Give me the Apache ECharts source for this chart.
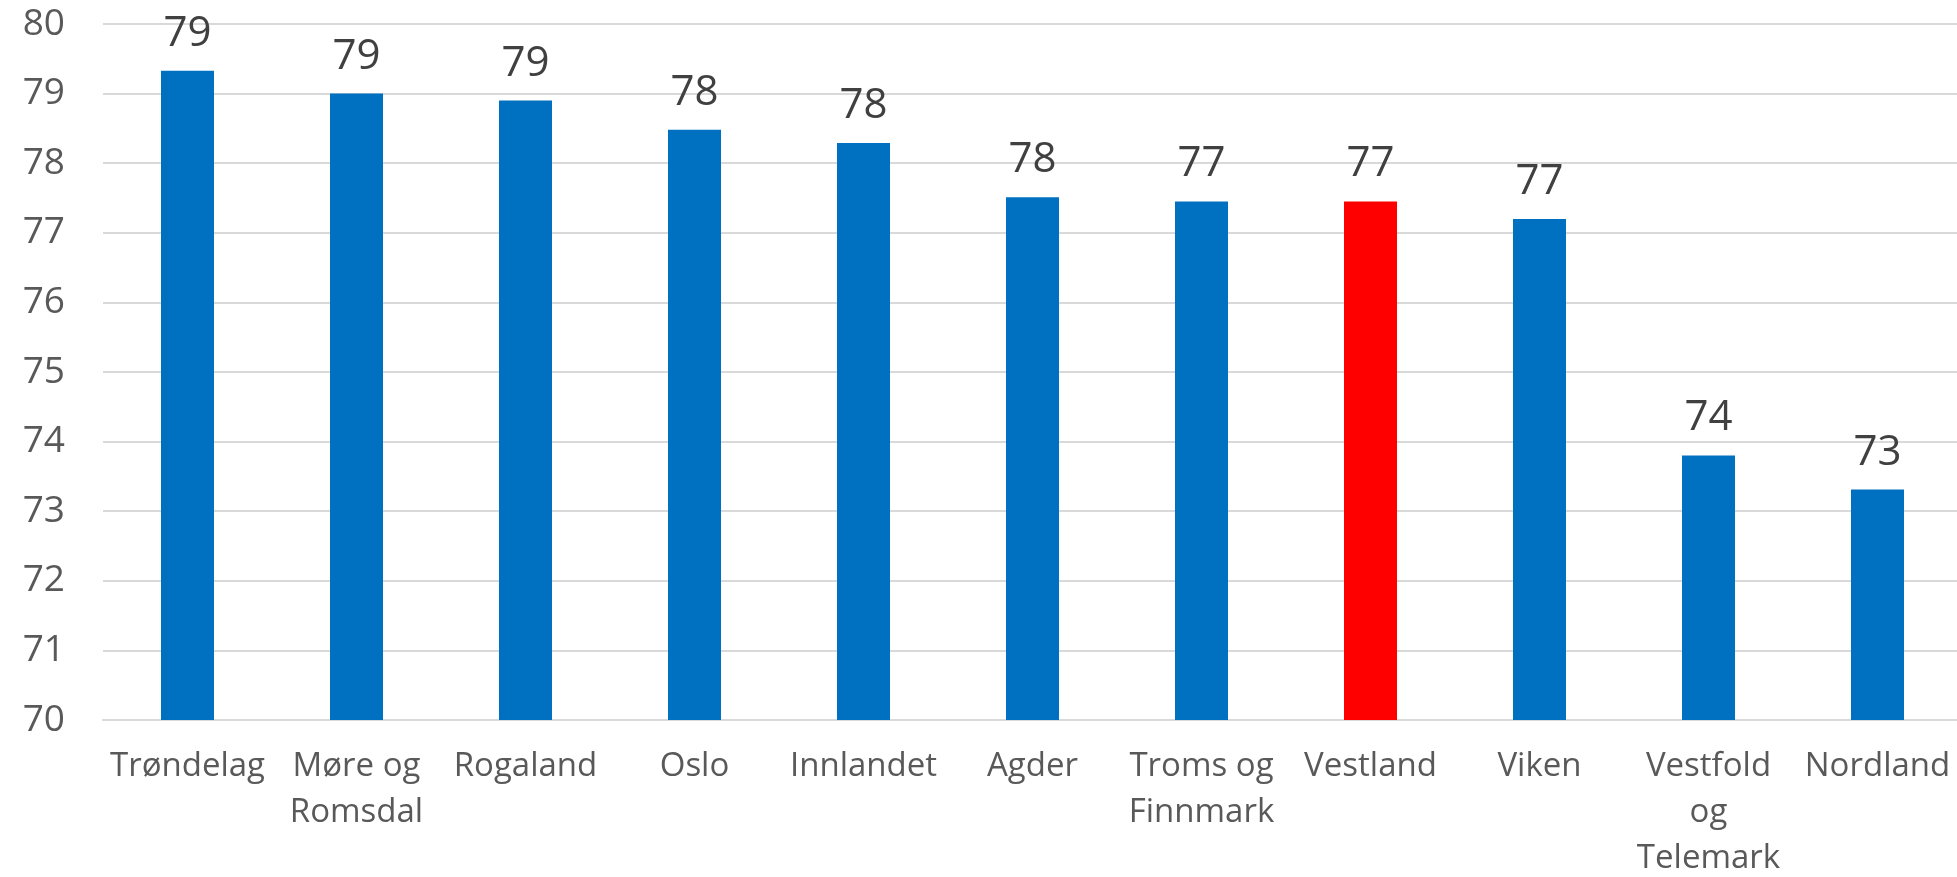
<!DOCTYPE html>
<html>
<head>
<meta charset="utf-8">
<script src="https://cdn.jsdelivr.net/npm/echarts@6/dist/echarts.min.js"></script>
<style>
  html, body { margin: 0; padding: 0; background: #fff; }
  #chart { width: 1957px; height: 877px; }
</style>
</head>
<body>
<div id="chart"></div>
<script>
  'use strict'

  var categories = ['Trøndelag', 'Møre og\nRomsdal', 'Rogaland', 'Oslo', 'Innlandet', 'Agder',
    'Troms og\nFinnmark', 'Vestland', 'Viken', 'Vestfold\nog\nTelemark', 'Nordland'];
  var values = [79.33, 79.0, 78.9, 78.48, 78.29, 77.51, 77.45, 77.45, 77.2, 73.8, 73.31];
  var highlight = 'Vestland';
  var yMin = 70;
  var yMax = 80;

  var barData = values.map(function (v, i) {
    return {
      value: v,
      itemStyle: { color: categories[i] === highlight ? '#ff0000' : '#0070c0' }
    };
  });

  var chart = echarts.init(document.getElementById('chart'));

  var option = {
    animation: false,
    grid: {
      top: 24,
      right: -5,
      bottom: 157,
      left: 103,
      containLabel: false,
      outerBoundsMode: 'none'
    },
    xAxis: {
      type: 'category',
      data: categories,
      axisTick: { show: false },
      axisLine: {
        lineStyle: { color: '#d9d9d9', width: 2 }
      },
      axisLabel: {
        interval: 0,
        margin: 24,
        fontSize: 33,
        lineHeight: 46,
        color: '#595959',
        fontFamily: 'Open Sans'
      }
    },
    yAxis: {
      type: 'value',
      min: yMin,
      max: yMax,
      interval: 1,
      axisLine: { show: false },
      axisTick: { show: false },
      splitLine: {
        lineStyle: { color: '#d9d9d9', width: 2 }
      },
      axisLabel: {
        margin: 38,
        fontSize: 37,
        color: '#595959',
        fontFamily: 'Open Sans'
      }
    },
    series: [{
      type: 'bar',
      data: barData,
      barWidth: 53,
      label: {
        show: true,
        position: 'top',
        distance: 16,
        fontSize: 42,
        color: '#404040',
        fontFamily: 'Open Sans',
        formatter: function (p) { return Math.round(p.value); }
      }
    }]
  };

  chart.setOption(option);
</script>
</body>
</html>
